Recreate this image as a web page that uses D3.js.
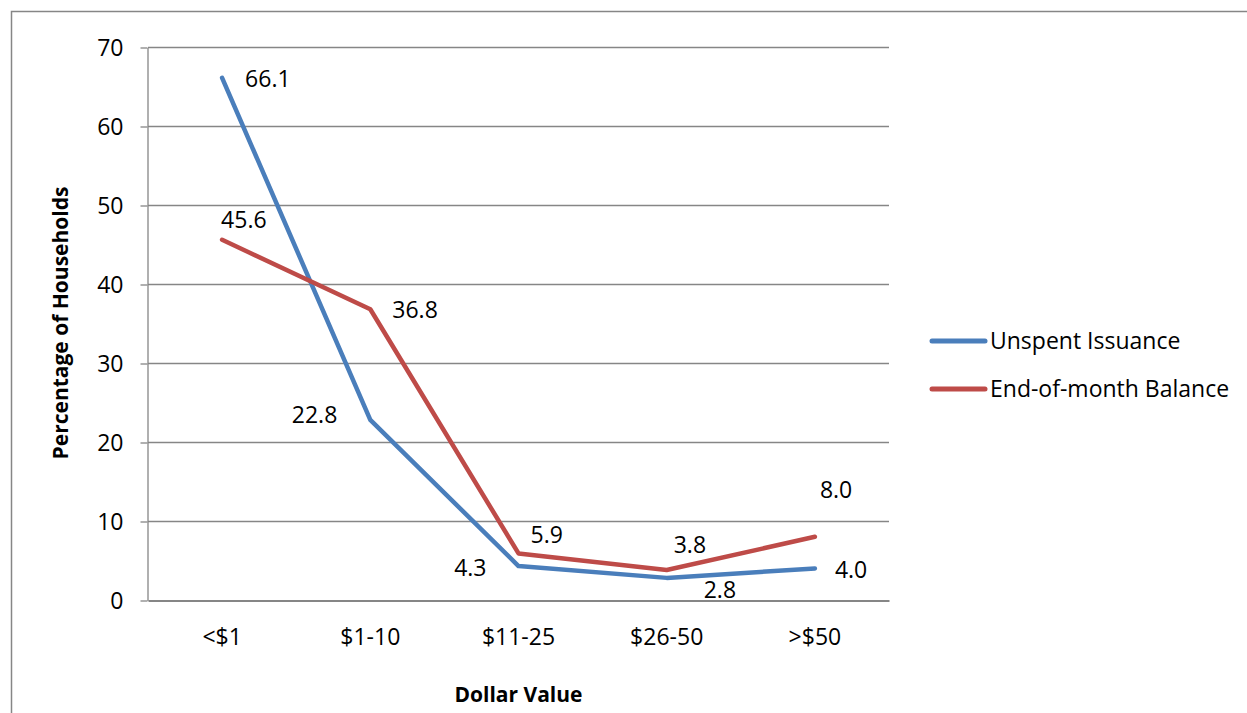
<!DOCTYPE html>
<html>
<head>
<meta charset="utf-8">
<script src="https://cdn.jsdelivr.net/npm/d3@7"></script>
<style>
  body { margin: 0; background: #fff; }
  svg text { font-family: "Open Sans", "Noto Sans", sans-serif; fill: #000; }
</style>
</head>
<body>
<div id="chart"></div>
<script>
// chart values
var categories = ['<$1', '$1-10', '$11-25', '$26-50', '>$50'];
var unspent = [66.1, 22.8, 4.3, 2.8, 4.0];
var endBalance = [45.6, 36.8, 5.9, 3.8, 8.0];
var yTicks = [0, 10, 20, 30, 40, 50, 60, 70];

// label placement (px offsets from the point, and anchor)
var unspentLabelPos = [[23, 9, 'start'], [-33, 3, 'end'], [-32, 10, 'end'], [37, 20, 'start'], [20, 10, 'start']];
var balanceLabelPos = [[-1, -12, 'start'], [22, 9, 'start'], [12, -10, 'start'], [7, -17, 'start'], [5, -39, 'start']];

var width = 1247, height = 713;
var plotLeft = 148, plotRight = 889, plotTop = 47, plotBottom = 600;

var svg = d3.select('#chart').append('svg')
  .attr('width', width)
  .attr('height', height);

// outer frame
svg.append('rect')
  .attr('x', 11.5).attr('y', 11.5)
  .attr('width', width + 10).attr('height', height + 10)
  .attr('fill', 'none').attr('stroke', '#868686').attr('stroke-width', 1.5);

var x = d3.scaleBand().domain(categories).range([plotLeft, plotRight]);
var y = d3.scaleLinear().domain([0, 70]).range([plotBottom, plotTop]);

// gridlines
svg.append('g').selectAll('line')
  .data(yTicks.slice(1))
  .enter().append('line')
  .attr('x1', plotLeft).attr('x2', plotRight)
  .attr('y1', function(d) { return y(d) + 0.5; })
  .attr('y2', function(d) { return y(d) + 0.5; })
  .attr('stroke', '#868686').attr('stroke-width', 1.3);

// y axis
var yAxis = svg.append('g')
  .attr('transform', 'translate(' + (plotLeft - 0.5) + ',0.5)')
  .call(d3.axisLeft(y).tickValues(yTicks).tickSize(7).tickPadding(17).tickSizeOuter(0));
yAxis.selectAll('line, path').attr('stroke', '#868686').attr('stroke-width', 1.3);
yAxis.selectAll('text').style('font-size', '23px').attr('dy', '0.34em');

// x axis
var xAxis = svg.append('g')
  .attr('transform', 'translate(0,' + (plotBottom + 0.5) + ')')
  .call(d3.axisBottom(x).tickSize(0).tickPadding(28));
xAxis.selectAll('path').attr('stroke', '#868686').attr('stroke-width', 2);
xAxis.selectAll('text').style('font-size', '23px');

// axis titles
svg.append('text')
  .attr('transform', 'translate(68,323) rotate(-90)')
  .attr('text-anchor', 'middle')
  .style('font-size', '21px').style('font-weight', 'bold')
  .text('Percentage of Households');
svg.append('text')
  .attr('x', (plotLeft + plotRight) / 2).attr('y', 702)
  .attr('text-anchor', 'middle')
  .style('font-size', '21px').style('font-weight', 'bold')
  .text('Dollar Value');

var series = [
  {name: 'Unspent Issuance', values: unspent, color: '#4a7ebb', pos: unspentLabelPos},
  {name: 'End-of-month Balance', values: endBalance, color: '#be4b48', pos: balanceLabelPos}
];

var line = d3.line()
  .x(function(d, i) { return x(categories[i]) + x.bandwidth() / 2; })
  .y(function(d) { return y(d); });

series.forEach(function(s) {
  svg.append('path')
    .attr('d', line(s.values))
    .attr('fill', 'none')
    .attr('stroke', s.color)
    .attr('stroke-width', 4.5)
    .attr('stroke-linejoin', 'round')
    .attr('stroke-linecap', 'round');
});

series.forEach(function(s) {
  svg.append('g').selectAll('text')
    .data(s.values)
    .enter().append('text')
    .attr('x', function(d, i) { return x(categories[i]) + x.bandwidth() / 2 + s.pos[i][0]; })
    .attr('y', function(d, i) { return y(d) + s.pos[i][1]; })
    .attr('text-anchor', function(d, i) { return s.pos[i][2]; })
    .style('font-size', '23px')
    .text(function(d) { return d.toFixed(1); });
});

// legend
var legend = svg.append('g').attr('transform', 'translate(930,341)');
series.forEach(function(s, i) {
  var g = legend.append('g').attr('transform', 'translate(0,' + i * 48 + ')');
  g.append('line')
    .attr('x1', 2).attr('x2', 55)
    .attr('stroke', s.color).attr('stroke-width', 5)
    .attr('stroke-linecap', 'round');
  g.append('text')
    .attr('x', 60).attr('dy', '0.35em')
    .style('font-size', '23px')
    .text(s.name);
});
</script>
</body>
</html>
